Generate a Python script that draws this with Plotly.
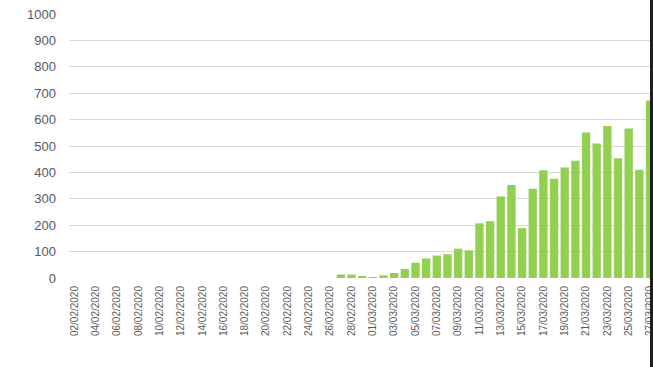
import plotly.graph_objects as go

dates = [
    "02/02/2020", "03/02/2020", "04/02/2020", "05/02/2020", "06/02/2020", "07/02/2020",
    "08/02/2020", "09/02/2020", "10/02/2020", "11/02/2020", "12/02/2020", "13/02/2020",
    "14/02/2020", "15/02/2020", "16/02/2020", "17/02/2020", "18/02/2020", "19/02/2020",
    "20/02/2020", "21/02/2020", "22/02/2020", "23/02/2020", "24/02/2020", "25/02/2020",
    "26/02/2020", "27/02/2020", "28/02/2020", "29/02/2020", "01/03/2020", "02/03/2020",
    "03/03/2020", "04/03/2020", "05/03/2020", "06/03/2020", "07/03/2020", "08/03/2020",
    "09/03/2020", "10/03/2020", "11/03/2020", "12/03/2020", "13/03/2020", "14/03/2020",
    "15/03/2020", "16/03/2020", "17/03/2020", "18/03/2020", "19/03/2020", "20/03/2020",
    "21/03/2020", "22/03/2020", "23/03/2020", "24/03/2020", "25/03/2020", "26/03/2020",
    "27/03/2020",
]

cases = [
    0, 0, 0, 0, 0, 0, 0, 0, 0, 0, 0, 0, 0, 0, 0, 0, 0, 0, 0, 0, 0, 0, 0, 0, 0,
    13, 13, 6, 3, 10, 19, 34, 58, 74, 85, 90, 111, 105, 207, 215,
    309, 352, 189, 338, 408, 376, 419, 444, 551, 509, 576, 454, 566, 410, 672,
]

tick_labels = dates[::2]
y_ticks = list(range(0, 1001, 100))

fig = go.Figure()
fig.add_trace(go.Bar(
    x=dates, y=cases,
    marker=dict(color="#92D050", line=dict(width=0)),
    hoverinfo="x+y",
))

fig.update_layout(
    width=653, height=367,
    margin=dict(l=69, r=3, t=14, b=89, autoexpand=False),
    paper_bgcolor="white", plot_bgcolor="white",
    bargap=0.22,
    showlegend=False,
    font=dict(family="Liberation Sans, Arial, sans-serif", color="#595959"),
)

fig.update_xaxes(
    type="category",
    range=[-0.5, 54.0],
    tickmode="array", tickvals=tick_labels, ticktext=tick_labels,
    tickangle=-90,
    tickfont=dict(size=10, color="#595959"),
    showgrid=False, showline=False, zeroline=False,
    ticks="", ticklabelstandoff=5, automargin=False,
)

fig.update_yaxes(
    range=[0, 1000],
    tickmode="array", tickvals=y_ticks,
    tickfont=dict(size=13, color="#595959"),
    showgrid=True, gridcolor="#D9D9D9", gridwidth=1,
    zeroline=False, showline=False,
    ticks="", ticklabelstandoff=12, automargin=False,
)

fig.add_shape(
    type="line", xref="paper", yref="paper",
    x0=1.0026, x1=1.0026, y0=-0.34, y1=1.06,
    line=dict(color="#1F1F1F", width=3),
    layer="above",
)

fig.write_html("out.html")
